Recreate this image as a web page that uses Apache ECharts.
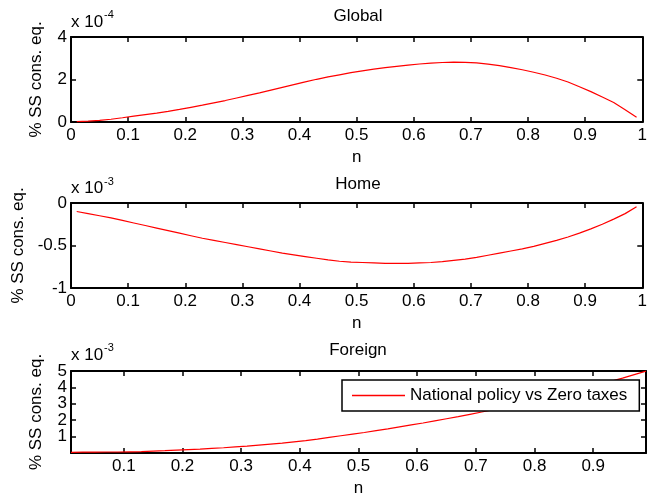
<!DOCTYPE html>
<html>
<head>
<meta charset="utf-8">
<script src="https://cdn.jsdelivr.net/npm/echarts@6/dist/echarts.min.js"></script>
<style>
html,body{margin:0;padding:0;background:#fff;}
#main{width:650px;height:498px;}
</style>
</head>
<body>
<div id="main"></div>
<script>
// n values
var nVals = [0.01,0.03,0.05,0.07,0.09,0.11,0.13,0.15,0.17,0.19,
             0.21,0.23,0.25,0.27,0.29,0.31,0.33,0.35,0.37,0.39,
             0.41,0.43,0.45,0.47,0.49,0.51,0.53,0.55,0.57,0.59,
             0.61,0.63,0.65,0.67,0.69,0.71,0.73,0.75,0.77,0.79,
             0.81,0.83,0.85,0.87,0.89,0.91,0.93,0.95,0.97,0.99];
// Global, units of 1e-4
var globalVals = [0.02,0.04,0.08,0.13,0.20,0.28,0.35,0.42,0.50,0.59,
                  0.69,0.79,0.90,1.01,1.13,1.25,1.37,1.50,1.63,1.76,
                  1.89,2.01,2.12,2.22,2.32,2.41,2.49,2.56,2.62,2.68,
                  2.73,2.77,2.80,2.82,2.81,2.78,2.72,2.65,2.56,2.46,
                  2.34,2.21,2.06,1.88,1.66,1.43,1.18,0.92,0.58,0.22];
// Home, units of 1e-3
var homeVals = [-0.100,-0.125,-0.150,-0.175,-0.205,-0.235,-0.265,-0.295,-0.325,-0.355,
                -0.385,-0.415,-0.440,-0.465,-0.490,-0.515,-0.540,-0.565,-0.590,-0.610,
                -0.630,-0.650,-0.670,-0.685,-0.695,-0.700,-0.705,-0.710,-0.710,-0.710,
                -0.705,-0.700,-0.690,-0.675,-0.660,-0.640,-0.615,-0.590,-0.565,-0.540,
                -0.510,-0.475,-0.440,-0.400,-0.355,-0.305,-0.250,-0.190,-0.125,-0.045];
// Foreign, units of 1e-3
var foreignVals = [0.04,0.05,0.05,0.06,0.06,0.07,0.08,0.11,0.14,0.18,
                   0.21,0.24,0.28,0.32,0.37,0.42,0.48,0.54,0.60,0.68,
                   0.76,0.85,0.95,1.05,1.15,1.25,1.36,1.47,1.59,1.71,
                   1.83,1.96,2.09,2.22,2.36,2.50,2.65,2.80,2.96,3.12,
                   3.29,3.46,3.63,3.81,3.99,4.18,4.37,4.57,4.78,4.99];
var xTicksInner = [0.1,0.2,0.3,0.4,0.5,0.6,0.7,0.8,0.9];
var titles = ['Global','Home','Foreign'];
var exps = ['-4','-3','-3'];
var yName = '% SS cons. eq.';
var xName = 'n';
var legendName = 'National policy vs Zero taxes';

var FONT = 'Liberation Sans, Arial, Helvetica, sans-serif';
var FS = 17;

function pairs(v){ return nVals.map(function(n,i){return [n, v[i]];}); }

var grids = [
  {left:71, right:5, top:37, height:85},
  {left:71, right:5, top:203, height:85},
  {left:71, right:4, top:371, height:83}
];

var axisLineStyle = {show:true, onZero:false, lineStyle:{color:'#000', width:2}};
var tickStyle = {show:true, inside:true, length:5, lineStyle:{color:'#000', width:1.5}};
var labelStyle = {color:'#000', fontSize:FS, fontFamily:FONT};

var xAxes = [], yAxes = [];
var xCfg = [
  {min:0, max:1, interval:0.1},
  {min:0, max:1, interval:0.1},
  {min:0.01, max:0.99, custom:true}
];
var yCfg = [
  {min:0, max:4, interval:2},
  {min:-1, max:0, interval:0.5},
  {min:0, max:5, interval:1, split:true}
];
for (var g=0; g<3; g++){
  var xc = xCfg[g], yc = yCfg[g];
  ['bottom','top'].forEach(function(pos){
    var ax = {type:'value', gridIndex:g, position:pos, min:xc.min, max:xc.max,
      axisLine:axisLineStyle, splitLine:{show:false},
      axisTick: Object.assign({}, tickStyle),
      axisLabel: Object.assign({show: pos==='bottom', margin:5, showMaxLabel:true, showMinLabel:true, hideOverlap:false}, labelStyle)};
    if (xc.custom){
      ax.axisTick.customValues = xTicksInner;
      ax.axisLabel.customValues = xTicksInner;
    } else {
      ax.interval = xc.interval;
    }
    if (pos==='bottom'){
      ax.name = xName; ax.nameLocation='middle'; ax.nameGap=27;
      ax.nameTextStyle = {color:'#000', fontSize:FS, fontFamily:FONT};
    }
    xAxes.push(ax);
  });
  ['left','right'].forEach(function(pos){
    var ay = {type:'value', gridIndex:g, position:pos, min:yc.min, max:yc.max, interval:yc.interval,
      axisLine:axisLineStyle, splitLine:{show:false},
      axisTick: Object.assign({}, tickStyle),
      axisLabel: Object.assign({show: pos==='left', margin:4, hideOverlap:false,
        showMinLabel: !yc.split, showMaxLabel: !yc.split}, labelStyle)};
    if (pos==='left'){
      ay.name = yName; ay.nameLocation='middle'; ay.nameGap=26; ay.nameRotate=90;
      ay.nameTextStyle = {color:'#000', fontSize:FS, fontFamily:FONT};
    }
    yAxes.push(ay);
  });
}
// extra label-only axis for the top label of the Foreign panel
yAxes.push({type:'value', gridIndex:2, position:'left', min:yCfg[2].min, max:yCfg[2].max, interval:yCfg[2].interval,
  axisLine:{show:false}, axisTick:{show:false}, splitLine:{show:false},
  axisLabel: Object.assign({show:true, margin:4, hideOverlap:false, showMinLabel:false, showMaxLabel:true,
    formatter:function(v){ return v === yCfg[2].max ? String(v) : ''; }}, labelStyle)});

var seriesData = [globalVals, homeVals, foreignVals];
var series = seriesData.map(function(v,g){
  return {type:'line', name: legendName, xAxisIndex:2*g, yAxisIndex:2*g, data:pairs(v),
    symbol:'none', showSymbol:false, animation:false,
    lineStyle:{color:'#ff0000', width:1.2}, itemStyle:{color:'#ff0000'}};
});

var titleY = [16.7, 184, 350];
var xY = [22, 188.7, 355.5];
var eY = [15, 181.5, 347.5];
var graphic = [];
for (var k=0;k<3;k++){
  graphic.push({type:'text', style:{text:titles[k], x:358, y:titleY[k], textAlign:'center', textVerticalAlign:'middle', fontSize:FS, fontFamily:FONT, fill:'#000'}});
  graphic.push({type:'text', style:{text:'x 10', x:71, y:xY[k], textAlign:'left', textVerticalAlign:'middle', fontSize:FS, fontFamily:FONT, fill:'#000'}});
  graphic.push({type:'text', style:{text:exps[k], x:104, y:eY[k], textAlign:'left', textVerticalAlign:'middle', fontSize:11, fontFamily:FONT, fill:'#000'}});
}

var chart = echarts.init(document.getElementById('main'), null, {renderer:'canvas'});
chart.setOption({
  backgroundColor:'#fff',
  animation:false,
  grid: grids,
  xAxis: xAxes,
  yAxis: yAxes,
  series: series,
  legend: {
    data:[{name:legendName, icon:'rect'}],
    left:342, top:380,
    padding:[7,12,7,10],
    itemWidth:53, itemHeight:1.5,
    borderColor:'#000', borderWidth:1.5, backgroundColor:'#fff',
    textStyle:{color:'#000', fontSize:FS, fontFamily:FONT},
    selectedMode:false
  },
  graphic: graphic
});
</script>
</body>
</html>
